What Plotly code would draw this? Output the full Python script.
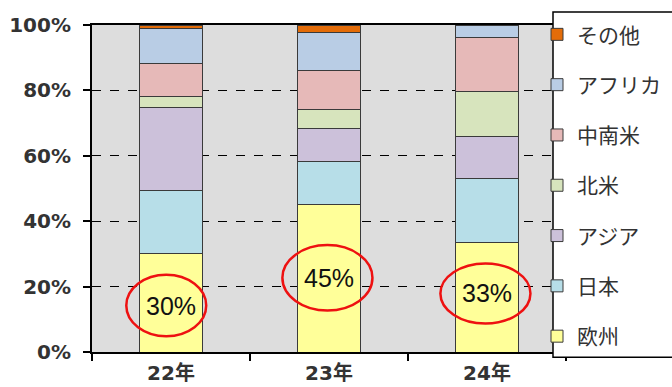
import plotly.graph_objects as go

# ---- data (percent share by region) ----
years = ["22年", "23年", "24年"]
regions = ["欧州", "日本", "アジア", "北米", "中南米", "アフリカ", "その他"]
europe = [30.0, 45.2, 33.6]
japan = [19.3, 13.0, 19.4]
asia = [25.4, 10.0, 12.8]
north_america = [3.4, 6.1, 13.8]
latin_america = [10.1, 11.7, 16.5]
africa = [10.6, 11.8, 3.9]
others = [1.2, 2.2, 0.0]
series_values = [europe, japan, asia, north_america, latin_america, africa, others]
highlight_labels = ["30%", "45%", "33%"]
y_tick_values = [0, 20, 40, 60, 80, 100]
y_tick_labels = ["0%", "20%", "40%", "60%", "80%", "100%"]

# ---- styles ----
colors = ["#FFFF99", "#B7DEE8", "#CCC1DA", "#D7E4BD", "#E6B9B8", "#B9CDE5", "#E36C09"]
# highlight ellipse geometry (in axis units): center offset, half sizes
hl_center_dx = [-0.03, -0.01, -0.01]
hl_center_y = [14.2, 22.7, 17.9]
hl_half_w = [0.253, 0.285, 0.285]
hl_half_h = [9.4, 10.0, 9.2]

fig = go.Figure()
n = len(regions)
for k, (name, vals, col) in enumerate(zip(regions, series_values, colors)):
    fig.add_trace(go.Bar(
        x=years, y=vals, name=name, legendgroup=name, legendrank=n - k,
        marker=dict(color=col, line=dict(color="#3a3a3a", width=1)),
        hoverinfo="x+y+name",
    ))

shapes = []
annotations = []
for i, lab in enumerate(highlight_labels):
    cx = i + hl_center_dx[i]
    cy = hl_center_y[i]
    shapes.append(dict(type="circle", xref="x", yref="y",
                       x0=cx - hl_half_w[i], x1=cx + hl_half_w[i],
                       y0=cy - hl_half_h[i], y1=cy + hl_half_h[i],
                       line=dict(color="#EE1111", width=2.5), layer="above"))
    annotations.append(dict(x=i, y=cy, xref="x", yref="y", text=lab,
                            showarrow=False,
                            font=dict(family="Liberation Sans", size=25, color="#111111")))

# legend box (white panel at right, drawn over the plot area)
shapes.append(dict(type="rect", xref="paper", yref="paper",
                   x0=(553 - 92) / 474, x1=1.4, y0=-0.016, y1=1.04,
                   fillcolor="white", line=dict(color="black", width=1.5), layer="above"))

fig.update_layout(
    width=672, height=387,
    margin=dict(l=92, r=106, t=25, b=35, autoexpand=False),
    barmode="stack", bargap=0.6,
    plot_bgcolor="#DDDDDD", paper_bgcolor="white",
    showlegend=True,
    legend=dict(x=(537 - 92) / 474, xanchor="left", y=1.033, yanchor="top",
                bgcolor="rgba(0,0,0,0)", borderwidth=0, maxheight=385,
                traceorder="grouped", tracegroupgap=20,
                font=dict(family="Noto Sans CJK JP", size=21, color="#333333")),
    shapes=shapes, annotations=annotations,
)
fig.update_xaxes(type="category", automargin=False, showline=True, linecolor="black",
                 linewidth=2, mirror=True, ticks="outside", tickson="boundaries",
                 ticklen=7, tickwidth=2, tickcolor="black", showgrid=False,
                 ticklabelstandoff=2,
                 tickfont=dict(family="DejaVu Sans, Noto Sans CJK JP", size=20,
                               color="#333333", weight="bold"))
fig.update_yaxes(range=[0, 100], automargin=False, tickmode="array",
                 tickvals=y_tick_values, ticktext=y_tick_labels,
                 showline=True, linecolor="black", linewidth=2, mirror=True,
                 ticks="outside", ticklen=7, tickwidth=2, tickcolor="black",
                 showgrid=True, gridcolor="black", griddash="dash", gridwidth=1,
                 zeroline=False, ticklabelstandoff=8,
                 tickfont=dict(family="DejaVu Sans", size=20, color="#333333", weight="bold"))

fig.write_html("out.html")
